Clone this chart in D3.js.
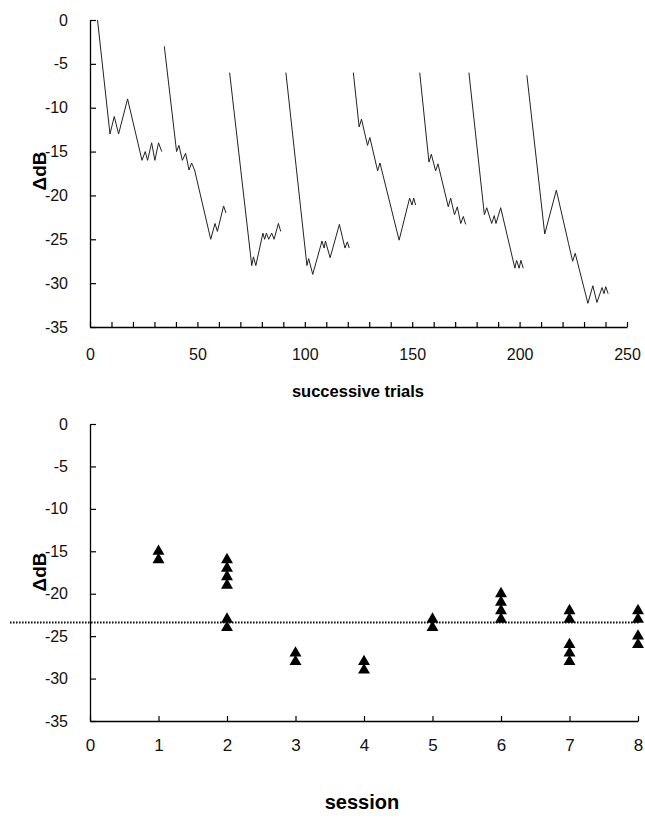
<!DOCTYPE html>
<html>
<head>
<meta charset="utf-8">
<script src="https://cdn.jsdelivr.net/npm/d3@7"></script>
<style>
  body { margin: 0; background: #fff; }
  svg { display: block; font-family: "Liberation Sans", Arial, sans-serif; }
</style>
</head>
<body>
<svg id="chart" width="645" height="821"></svg>
<script>
// --- data ---

// staircase runs (turning points): trial number / level in dB
const runTrials = [
    [3.5, 9.3, 11.3, 13.3, 17.5, 24.2, 25.7, 26.8, 28.7, 30.2, 31.9, 33.4],
    [34.6, 40.3, 41.4, 43, 44.5, 46.1, 47.3, 48.7, 56.2, 58.2, 59.3, 62.2, 63.3],
    [65, 75.3, 76.1, 77.2, 80.5, 81.3, 82.1, 83.2, 84.6, 85.7, 87.7, 88.8],
    [91.2, 101, 101.8, 103.7, 108, 109, 109.6, 111.8, 116.1, 118.7, 119.8, 120.7],
    [122.6, 125.3, 126.4, 129.2, 130.3, 133.9, 135, 143.9, 148.8, 149.9, 150.7, 151.6],
    [153.5, 157.8, 158.9, 160.9, 162, 166.8, 167.9, 169.7, 171, 172.6, 173.8, 174.9],
    [176.4, 183.6, 184.7, 187, 188.2, 189, 191.2, 197.8, 198.6, 199.8, 200.6, 201.7],
    [203.4, 211.7, 217.1, 222.8, 224.7, 225.9, 231.8, 234.1, 236, 238.4, 239.3, 240.1, 241.2]
];
const runDb = [
    [0, -13, -11, -13, -9, -16, -15, -16, -14, -16, -14, -15],
    [-3, -15, -14.3, -16, -15.2, -17.1, -16.3, -17.1, -25, -23.2, -24.1, -21.2, -22],
    [-6, -28, -27, -28, -24.3, -25, -24.3, -25, -24.3, -25, -23.2, -24.1],
    [-6, -28, -27.2, -29, -25.2, -26, -25.2, -27.1, -23.3, -26, -25.3, -26],
    [-6, -12.2, -11.3, -14.3, -13.4, -17.2, -16.3, -25.1, -20.3, -21.1, -20.3, -21.1],
    [-6, -16.2, -15.3, -17.2, -16.4, -21.3, -20.3, -22.2, -21.3, -23.2, -22.4, -23.3],
    [-6, -22.2, -21.4, -23.2, -22.3, -23.2, -21.4, -28.3, -27.4, -28.3, -27.4, -28.3],
    [-6.3, -24.4, -19.4, -25.5, -27.5, -26.6, -32.3, -30.3, -32.2, -30.5, -31.2, -30.4, -31.2]
];

// thresholds per session
const pointSession = [1, 1, 2, 2, 2, 2, 2, 2, 3, 3, 4, 4, 5, 5, 6, 6, 6, 6, 7, 7, 7, 7, 7, 8, 8, 8, 8];
const pointDb = [-15, -16, -16, -17, -18, -19, -23, -24, -27, -28, -28, -29, -23, -24,
                 -20, -21, -22, -23, -22, -23, -26, -27, -28, -22, -23, -25, -26];
const meanDb = -23.4;

const dbTicks = [0, -5, -10, -15, -20, -25, -30, -35];
const trialTicks = [0, 50, 100, 150, 200, 250];
const trialMinor = d3.range(0, 251, 10);
const sessionTicks = [0, 1, 2, 3, 4, 5, 6, 7, 8];

// --- drawing ---
const svg = d3.select("#chart");

function yAxis(g, y) {
    g.call(d3.axisLeft(y).tickValues(dbTicks).tickFormat(d => String(d))
        .tickSize(-6).tickSizeOuter(0).tickPadding(22));
    g.select(".domain").attr("stroke-width", 1.3);
    g.selectAll(".tick line").attr("stroke-width", 1.2);
    g.selectAll("text").attr("font-size", 16).attr("fill", "#111");
}

function yTitle(x, y) {
    svg.append("text")
        .attr("transform", `translate(${x},${y}) rotate(-90)`)
        .attr("text-anchor", "middle")
        .attr("font-size", 19)
        .attr("font-weight", "bold")
        .text("\u0394dB");
}

// top panel
const x1 = d3.scaleLinear().domain([0, 250]).range([90, 627]);
const y1 = d3.scaleLinear().domain([0, -35]).range([20, 327]);

svg.append("g").attr("transform", "translate(90,0)").call(g => yAxis(g, y1));

const trialAxis = svg.append("g").attr("transform", "translate(0,327)");
trialAxis.call(d3.axisBottom(x1).tickValues(trialMinor).tickSize(-5).tickSizeOuter(0).tickFormat(""));
trialAxis.select(".domain").attr("stroke-width", 1.5);
trialAxis.selectAll(".tick line").attr("stroke-width", 1.2);
svg.append("g").attr("transform", "translate(0,327)")
    .call(d3.axisBottom(x1).tickValues(trialTicks).tickSize(0).tickPadding(22))
    .call(g => g.select(".domain").remove())
    .selectAll("text").attr("font-size", 16).attr("fill", "#111");

const line = d3.line().x(d => x1(d[0])).y(d => y1(d[1]));
svg.append("g")
    .selectAll("path")
    .data(runTrials.map((t, i) => t.map((v, j) => [v, runDb[i][j]])))
    .enter()
    .append("path")
    .attr("d", line)
    .attr("fill", "none")
    .attr("stroke", "#222")
    .attr("stroke-width", 1);

svg.append("text")
    .attr("x", 358).attr("y", 397)
    .attr("text-anchor", "middle")
    .attr("font-size", 16.5)
    .attr("font-weight", "bold")
    .text("successive trials");
yTitle(46, 171);

// bottom panel
const x2 = d3.scaleLinear().domain([0, 8]).range([90, 638]);
const y2 = d3.scaleLinear().domain([0, -35]).range([424, 721]);

svg.append("g").attr("transform", "translate(90,0)").call(g => yAxis(g, y2));

svg.append("g").attr("transform", "translate(0,721)")
    .call(d3.axisBottom(x2).tickValues(sessionTicks).tickSize(-5).tickSizeOuter(0).tickPadding(18))
    .call(g => g.select(".domain").attr("stroke-width", 1.5))
    .call(g => g.selectAll(".tick line").attr("stroke-width", 1.2))
    .selectAll("text").attr("font-size", 17).attr("fill", "#111");

svg.append("line")
    .attr("x1", 10).attr("x2", 640)
    .attr("y1", y2(meanDb)).attr("y2", y2(meanDb))
    .attr("stroke", "#111")
    .attr("stroke-width", 2)
    .attr("stroke-dasharray", "1.6,1.4");

const tri = d3.symbol(d3.symbolTriangle, 62);
svg.append("g")
    .selectAll("path")
    .data(pointSession.map((s, i) => [s, pointDb[i]]))
    .enter()
    .append("path")
    .attr("transform", d => `translate(${x2(d[0])},${y2(d[1])})`)
    .attr("d", tri)
    .attr("fill", "#000");

svg.append("text")
    .attr("x", 362).attr("y", 809)
    .attr("text-anchor", "middle")
    .attr("font-size", 20)
    .attr("font-weight", "bold")
    .text("session");
yTitle(46, 572);
</script>
</body>
</html>
